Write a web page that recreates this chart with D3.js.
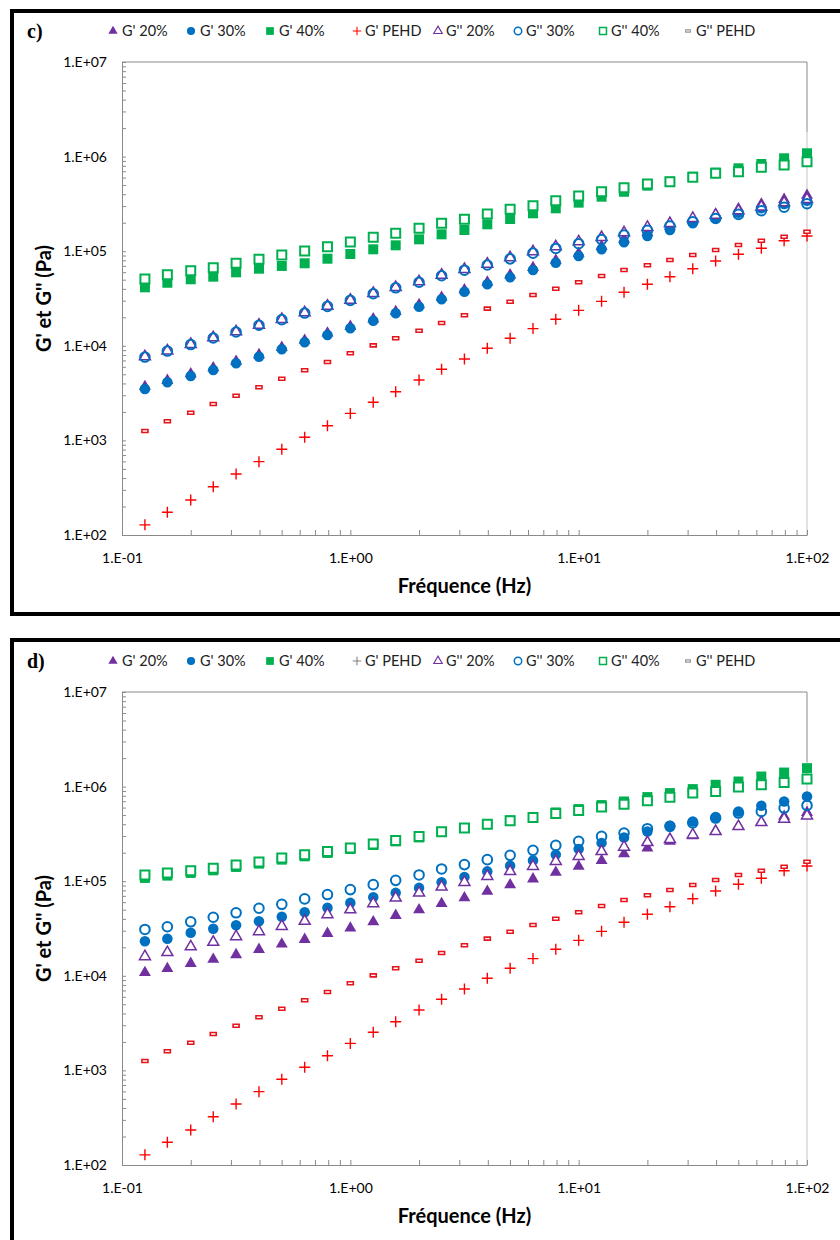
<!DOCTYPE html>
<html><head><meta charset="utf-8">
<script src="https://cdn.jsdelivr.net/npm/d3@7"></script>
<style>body{margin:0;background:#fff}svg{display:block}</style>
</head><body>
<script>
// ---------- DATA ----------
const freq = [0.126,0.158,0.2,0.251,0.316,0.398,0.501,0.631,0.794,1,1.26,1.58,2,2.51,3.16,3.98,5.01,6.31,7.94,10,12.6,15.8,20,25.1,31.6,39.8,50.1,63.1,79.4,100];
const xTicks = [0.1,1,10,100];
const yTicks = [1e2,1e3,1e4,1e5,1e6,1e7];
const seriesNames = ["G' 20%","G' 30%","G' 40%","G' PEHD","G'' 20%","G'' 30%","G'' 40%","G'' PEHD"];

// PEHD (same in both panels)
const pehdGp  = [128,174,234,324,442,596,805,1080,1430,1930,2530,3270,4350,5650,7250,9410,12000,15200,19050,23700,29500,36800,44700,53700,65300,78800,92700,107400,129000,144800];
const pehdGpp = [1256,1592,1963,2427,2970,3640,4490,5510,6740,8330,10100,12000,14450,17400,21000,24700,29250,34450,40150,46900,54700,63300,71000,80700,91200,103000,116300,129000,142300,160700];

// panel c
const gp20c  = [3700,4300,5050,5850,6850,8050,9600,11400,13600,16000,19200,23000,27200,32500,39000,47000,56000,67000,80000,95000,113000,134000,157000,183000,215000,245000,280000,315000,352000,390000];
const gp30c  = [3490,4110,4800,5550,6530,7670,9180,10890,13000,15300,18400,22070,25900,31000,37300,44700,52900,63300,75600,89000,104700,124100,144800,167500,197000,223000,255000,284000,315000,342000];
const gp40c  = [41500,46400,50500,53800,59800,65300,69800,74500,83300,93400,104700,115400,133500,150800,167500,192400,219000,251500,284000,326000,377000,425000,493000,543000,613000,676000,752000,835000,960000,1084000];
const gpp20c = [7670,8870,10370,12180,14100,16600,19050,22400,26350,30500,35900,41500,47600,56000,64400,73200,85400,98800,111600,126000,140000,157000,179000,197000,223000,241000,268000,295000,326000,354000];
const gpp30c = [7600,8800,10300,12100,14000,16500,18900,22200,26100,30200,35500,41000,47000,55000,63000,71500,83000,95500,107000,120000,133000,148000,166000,184000,205000,222000,245000,268000,292000,318000];
const gpp40c = [50800,56500,62200,66900,74500,82100,91200,100500,111600,125000,140200,154600,174600,197200,217400,247400,277300,302700,342000,383500,425000,469000,513000,543000,604000,666000,692000,771000,815000,883000];

// panel d
const gp20d  = [10800,11900,13500,14900,16700,19000,21600,24200,28000,31900,37200,43400,49800,58000,66600,78200,91400,105700,124100,143600,165000,195400,224600,263700,302700,336000,379000,418000,484000,533000];
const gp30d  = [23200,24600,28500,31400,34300,37800,42000,47000,52300,59000,67600,75300,85000,97300,111000,127000,146000,166000,191000,219000,254000,290000,336000,386000,428000,477000,546000,627000,696000,787000];
const gp40d  = [108300,114600,122300,130300,141500,153400,169000,183200,198900,219100,241400,263700,290400,331000,365000,402000,439000,477000,533000,579000,638000,696000,775000,854000,941000,1045000,1132000,1278000,1408000,1567000];
const gpp20d = [16000,17650,20300,22700,26000,29400,33400,37800,44400,50100,58000,66600,75300,87100,97300,112700,127000,143600,162200,183200,206700,230000,257200,277000,310000,336000,379000,418000,454000,492000];
const gpp30d = [30900,33000,37200,41600,46300,51800,57000,65000,72200,81500,92000,102100,116500,134800,149700,169000,187600,211800,239000,263700,297700,323000,359000,380000,412000,465000,525000,546000,593000,632000];
const gpp40d = [116000,122000,129000,137000,148000,160000,176000,190000,206000,225000,247000,270000,296000,334000,366000,400000,435000,470000,520000,560000,610000,650000,710000,770000,854000,888000,988000,1045000,1105000,1200000];

// ---------- STYLE ----------
const PURPLE="#7030A0", BLUE="#0070C0", GREEN="#00B050", RED="#FF0000";
const plusType = {draw(ctx,size){const r=Math.sqrt(size)/2;ctx.moveTo(-r,0);ctx.lineTo(r,0);ctx.moveTo(0,-r);ctx.lineTo(0,r);}};
const dashType = {draw(ctx,size){const w=Math.sqrt(size)/2,h=w*0.5;ctx.rect(-w,-h,2*w,2*h);}};
const styles = [
  {type:d3.symbolTriangle, size:62, fill:PURPLE, stroke:"none", sw:0},
  {type:d3.symbolCircle,   size:87, fill:BLUE,   stroke:"none", sw:0},
  {type:d3.symbolSquare,   size:100,fill:GREEN,  stroke:"none", sw:0},
  {type:plusType,          size:121,fill:"none", stroke:RED,    sw:1.4},
  {type:d3.symbolTriangle, size:52, fill:"#fff", stroke:PURPLE, sw:1.5},
  {type:d3.symbolCircle,   size:72, fill:"none", stroke:BLUE,   sw:2},
  {type:d3.symbolSquare,   size:81, fill:"#fff", stroke:GREEN,  sw:2},
  {type:dashType,          size:36, fill:"#fff", stroke:"#e8141b", sw:1.6}
];
const legendX = [[113,122],[191,200],[270,279],[357,365],[438,446],[518,526],[603,611],[688,696]];
const fmt = d => { const e = Math.round(Math.log10(d)); return "1.E" + (e<0?"-":"+") + String(Math.abs(e)).padStart(2,"0"); };

const svg = d3.select("body").append("svg").attr("width",840).attr("height",1240);
svg.append("rect").attr("width",840).attr("height",1240).attr("fill","#fff");

function drawPanel(p){
  const L=122, R=807, T=p.top, B=p.top+473;
  svg.append("rect").attr("x",12).attr("y",p.frameTop).attr("width",860).attr("height",p.frameH)
     .attr("fill","none").attr("stroke","#000").attr("stroke-width",4);
  const x = d3.scaleLog().domain([0.1,100]).range([L,R]);
  const y = d3.scaleLog().domain([100,1e7]).range([B,T]);
  // plot border top/right
  svg.append("line").attr("x1",L).attr("x2",R).attr("y1",T).attr("y2",T).attr("stroke","#8a8a8a");
  svg.append("line").attr("x1",R).attr("x2",R).attr("y1",T).attr("y2",T+70).attr("stroke","#8a8a8a");
  svg.append("line").attr("x1",R).attr("x2",R).attr("y1",T+70).attr("y2",B).attr("stroke","#c4c4c4");
  // minor ticks
  const gyMin = svg.append("g").attr("transform",`translate(${L},0)`)
     .call(d3.axisLeft(y).tickValues(y.ticks()).tickFormat("").tickSizeInner(-4).tickSizeOuter(0));
  gyMin.select(".domain").remove();
  gyMin.selectAll("line").attr("stroke","#8a8a8a");
  const gxMin = svg.append("g").attr("transform",`translate(0,${B})`)
     .call(d3.axisBottom(x).tickValues(x.ticks()).tickFormat("").tickSizeInner(-5).tickSizeOuter(0));
  gxMin.select(".domain").remove();
  gxMin.selectAll("line").attr("stroke","#8a8a8a");
  // major axes
  const gy = svg.append("g").attr("transform",`translate(${L},0)`)
     .call(d3.axisLeft(y).tickValues(yTicks).tickFormat(fmt).tickSize(0).tickPadding(15));
  gy.select(".domain").attr("stroke","#8a8a8a");
  gy.selectAll("text").attr("font-family","Lato").attr("font-size",14).attr("fill","#000");
  const gx = svg.append("g").attr("transform",`translate(0,${B})`)
     .call(d3.axisBottom(x).tickValues(xTicks).tickFormat(fmt).tickSize(0));
  gx.select(".domain").attr("stroke","#8a8a8a");
  gx.selectAll("text").attr("font-family","Lato").attr("font-size",14).attr("fill","#000")
     .attr("y",23).attr("dy","0.35em");
  // titles
  svg.append("text").attr("x",(L+R)/2).attr("y",B+51).attr("dy","0.35em").attr("text-anchor","middle")
     .attr("font-family","Lato").attr("font-weight","bold").attr("font-size",20).text("Fréquence (Hz)");
  svg.append("text").attr("transform",`translate(44,${(T+B)/2}) rotate(-90)`).attr("dy","0.35em")
     .attr("text-anchor","middle").attr("font-family","Lato").attr("font-weight","bold").attr("font-size",20)
     .text("G' et G'' (Pa)");
  // panel label
  svg.append("text").attr("x",27).attr("y",T-31).attr("dy","0.35em").attr("font-family","Liberation Serif")
     .attr("font-weight","bold").attr("font-size",20).text(p.label);
  // series
  p.series.forEach((vals,i)=>{
    const st = styles[i];
    const sym = d3.symbol().type(st.type).size(st.size);
    svg.append("g").selectAll("path").data(vals).join("path")
      .attr("transform",(v,j)=>`translate(${x(freq[j])},${y(v)})`)
      .attr("d",sym).attr("fill",st.fill).attr("stroke",st.stroke).attr("stroke-width",st.sw);
  });
  // legend
  seriesNames.forEach((name,i)=>{
    const st = styles[i];
    const ly = T-31;
    let stroke = (i===3 && p.legendPlus) ? p.legendPlus : st.stroke;
    if (i===7) stroke = "#999";
    svg.append("path").attr("transform",`translate(${legendX[i][0]},${ly})`)
      .attr("d",d3.symbol().type(st.type).size(st.size*0.6)).attr("fill",st.fill).attr("stroke",stroke)
      .attr("stroke-width",st.sw? Math.max(1,st.sw*0.75):0);
    svg.append("text").attr("x",legendX[i][1]).attr("y",ly).attr("dy","0.35em")
      .attr("font-family","Lato").attr("font-size",14.5).attr("fill","#222").text(name);
  });
}

drawPanel({label:"c)", top:62, frameTop:11, frameH:603,
  series:[gp20c,gp30c,gp40c,pehdGp,gpp20c,gpp30c,gpp40c,pehdGpp]});
drawPanel({label:"d)", top:692, frameTop:640, frameH:640, legendPlus:"#7f7f7f",
  series:[gp20d,gp30d,gp40d,pehdGp,gpp20d,gpp30d,gpp40d,pehdGpp]});
</script>
</body></html>
